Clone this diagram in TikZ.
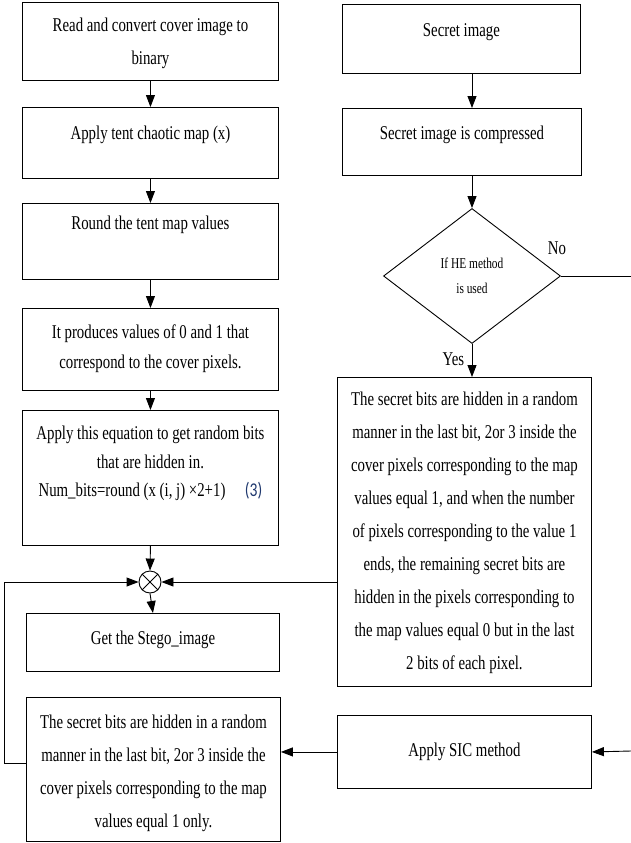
\documentclass[tikz,border=0pt]{standalone}
\usepackage{fontspec}
\setmainfont{Liberation Serif}[FakeStretch=0.76]
\newfontfamily\eqnofont{Carlito}[FakeStretch=0.8]
\usetikzlibrary{shapes.geometric, arrows.meta}

\definecolor{eqnoblue}{RGB}{31,56,110}
% fixed size cell, text starts at the top
\newcommand{\cell}[4][30pt]{\parbox[c][#3][t]{#2}{\centering\rule{0pt}{#1}#4\par}}

\begin{document}
\begin{tikzpicture}[x=1pt, y=-1pt, line width=0.9pt,
	>={Triangle[length=12pt, width=9pt]},
	every node/.style={font=\fontsize{19.5}{33}\selectfont},
	proc/.style={draw, inner sep=0pt, anchor=north west},
	decide/.style={draw, diamond, inner sep=0pt, align=center,
		minimum width=177pt, minimum height=135pt,
		font=\fontsize{15}{25}\selectfont}]

	\useasboundingbox[fill=white] (0,0) rectangle (631,843);

	% cover image side
	\node[proc] (read) at (22,2)
		{\cell[29pt]{256pt}{78pt}{Read and convert cover image to\\binary}};
	\node[proc] (tent) at (22,107)
		{\cell[32pt]{256pt}{71pt}{Apply tent chaotic map (x)}};
	\node[proc] (round) at (22,203)
		{\cell[26pt]{256pt}{76pt}{Round the tent map values}};
	\node[proc] (zeroone) at (22,308)
		{\cell[30pt]{256pt}{82pt}{It produces values of 0 and 1 that\\[-3pt]correspond to the cover pixels.}};
	\node[proc] (numbits) at (22,410)
		{\cell[29pt]{256pt}{135pt}{Apply this equation to get random bits\\[-4pt]
		that are hidden in.\\[-5pt]
		Num\_bits=round (x (i, j) ×2+1)\quad{\eqnofont\color{eqnoblue}(3)}}};

	\node[draw, circle, minimum size=22pt, inner sep=0pt] (mix) at (150,582) {};
	\draw (mix.north west) -- (mix.south east)
		(mix.north east) -- (mix.south west);

	\node[proc] (stego) at (26,613)
		{\cell[31pt]{253pt}{58pt}{Get the Stego\_image}};
	\node[proc] (sichide) at (26,697)
		{\cell[31pt]{254pt}{144pt}{The secret bits are hidden in a random\\
		manner in the last bit, 2or 3 inside the\\
		cover pixels corresponding to the map\\
		values equal 1 only.}};

	% secret image side
	\node[proc] (secret) at (342,4)
		{\cell[32pt]{238pt}{69pt}{Secret image}};
	\node[proc] (comp) at (342,108)
		{\cell[31pt]{239pt}{67pt}{Secret image is compressed}};
	\node[decide] (he) at (472,276) {If HE method\\is used};
	\node[proc] (hehide) at (337,377)
		{\cell[28pt]{254pt}{309pt}{The secret bits are hidden in a random\\
		manner in the last bit, 2or 3 inside the\\
		cover pixels corresponding to the map\\
		values equal 1, and when the number\\
		of pixels corresponding to the value 1\\
		ends, the remaining secret bits are\\
		hidden in the pixels corresponding to\\
		the map values equal 0 but in the last\\
		2 bits of each pixel.}};
	\node[proc] (sic) at (337,715)
		{\cell[41pt]{254pt}{73pt}{Apply SIC method}};

	\coordinate (noexit) at (631,276);
	\coordinate (sicentry) at (631,751);
	\coordinate (fbleft) at (4,582);

	% connectors
	\draw[->] (read.south) -- (tent.north);
	\draw[->] (tent.south) -- (round.north);
	\draw[->] (round.south) -- (zeroone.north);
	\draw[->] (zeroone.south) -- (numbits.north);
	\draw[->] (numbits.south) -- (mix.north);
	\draw[->] (mix.south) -- (stego.north);

	\draw[->] (secret.south -| he.north) -- (comp.north -| he.north);
	\draw[->] (comp.south -| he.north) -- (he.north);
	\draw[->] (he.south) -- (hehide.north -| he.south)
		node[pos=0.45, left=4pt] (yes) {Yes};
	\draw (he.east) -- (noexit);
	\node (no) at (557,248) {No};

	\draw[->] (hehide.west |- mix) -- (mix.east);
	\draw[->] (sicentry) -- (sic.east);
	\draw[->] (sic.west) -- (sic.west -| sichide.east);
	\draw[->] ([yshift=6pt]sichide.west) -| (fbleft) -- (mix.west);

\end{tikzpicture}
\end{document}
